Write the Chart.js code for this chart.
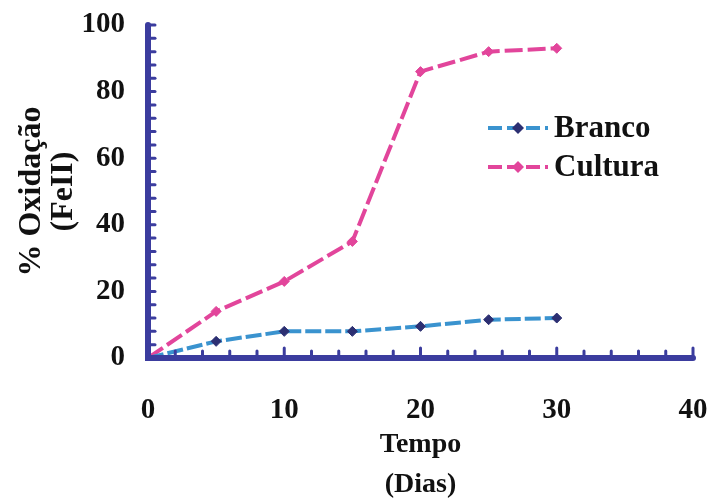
<!DOCTYPE html>
<html>
<head>
<meta charset="utf-8">
<script src="https://cdn.jsdelivr.net/npm/chart.js@4.4.1/dist/chart.umd.min.js"></script>
<style>
  html, body { margin: 0; padding: 0; background: #fff; }
  #wrap { width: 708px; height: 498px; }
</style>
</head>
<body>
<div id="wrap"><canvas id="oxChart" width="708" height="498"></canvas></div>
<script>
// tempo (dias) e % de oxidação do Fe(II)
var dias = [0, 5, 10, 15, 20, 25, 30];
var branco = [0, 5, 8, 8, 9.5, 11.5, 12];
var cultura = [0, 14, 23, 35, 86, 92, 93];
var xTicks = [0, 10, 20, 30, 40];
var yTicks = [0, 20, 40, 60, 80, 100];

var axisColor = '#3b3c9e';
var serif = '"Liberation Serif", "DejaVu Serif", serif';

function pts(vals){
    return dias.map(function(d, i){ return {x: d, y: vals[i]}; });
}

// eixos com marcas voltadas para dentro + legenda
var axesPlugin = {
    id: 'axesPlugin',
    afterDatasetsDraw: function(chart){
        var c = chart.ctx, xs = chart.scales.x, ys = chart.scales.y;
        var x0 = xs.getPixelForValue(0), y0 = ys.getPixelForValue(0);
        c.save();
        c.strokeStyle = axisColor;
        c.lineCap = 'round';
        c.lineWidth = 6;
        c.beginPath();
        c.moveTo(x0, ys.getPixelForValue(100));
        c.lineTo(x0, y0);
        c.lineTo(xs.getPixelForValue(40), y0);
        c.stroke();
        c.lineWidth = 3;
        for (var v = 4; v <= 100; v += 4) {
            var py = ys.getPixelForValue(v);
            c.beginPath(); c.moveTo(x0, py); c.lineTo(x0 + 7, py); c.stroke();
        }
        for (var t = 2; t <= 40; t += 2) {
            var px = xs.getPixelForValue(t);
            var len = (t % 10 === 0) ? 10 : 7;
            c.beginPath(); c.moveTo(px, y0); c.lineTo(px, y0 - len); c.stroke();
        }
        // legenda
        var items = chart.data.datasets;
        items.forEach(function(ds, i){
            var ly = 128 + i * 39, lx = 488;
            c.setLineDash([14, 5]);
            c.lineWidth = 4;
            c.lineCap = 'butt';
            c.strokeStyle = ds.borderColor;
            c.beginPath(); c.moveTo(lx, ly); c.lineTo(lx + 60, ly); c.stroke();
            c.setLineDash([]);
            c.fillStyle = ds.pointBackgroundColor;
            c.beginPath();
            c.moveTo(lx + 30, ly - 6); c.lineTo(lx + 36, ly);
            c.lineTo(lx + 30, ly + 6); c.lineTo(lx + 24, ly);
            c.closePath(); c.fill();
            c.fillStyle = '#111';
            c.font = 'bold 31px ' + serif;
            c.textBaseline = 'middle';
            c.fillText(ds.label, lx + 66, ly + 1);
        });
        c.restore();
    }
};

var ctx = document.getElementById('oxChart');
var oxChart = new Chart(ctx, {
    type: 'scatter',
    data: {
        datasets: [{
            label: 'Branco',
            data: pts(branco),
            showLine: true,
            borderColor: '#3a93cf',
            borderWidth: 4,
            borderDash: [16, 4],
            pointStyle: 'rectRot',
            pointRadius: 5,
            pointBackgroundColor: '#2c2f72',
            pointBorderColor: '#2c2f72',
            pointBorderWidth: 1
        }, {
            label: 'Cultura',
            data: pts(cultura),
            showLine: true,
            borderColor: '#e2459b',
            borderWidth: 4,
            borderDash: [18, 5],
            pointStyle: 'rectRot',
            pointRadius: 5,
            pointBackgroundColor: '#e2459b',
            pointBorderColor: '#e2459b',
            pointBorderWidth: 1
        }]
    },
    options: {
        responsive: false,
        animation: false,
        layout: { padding: { top: 25, right: 0, left: 0, bottom: 0 } },
        plugins: { legend: { display: false }, tooltip: { enabled: false } },
        scales: {
            x: {
                min: 0, max: 40,
                afterFit: function(s){ s.height = 140; s.paddingRight = 15; s.paddingLeft = 0; },
                afterBuildTicks: function(s){ s.ticks = xTicks.map(function(v){ return {value: v}; }); },
                grid: { display: false },
                border: { display: false },
                ticks: { padding: 27, color: '#111', font: { family: serif, size: 29, weight: 'bold' } },
                title: {
                    display: true,
                    text: ['Tempo', '(Dias)'],
                    color: '#111',
                    font: { family: serif, size: 28, weight: 'bold', lineHeight: 1.4 },
                    padding: { top: 0, bottom: -6 }
                }
            },
            y: {
                min: 0, max: 100,
                afterFit: function(s){ s.width = 148; s.paddingTop = 0; s.paddingBottom = 0; },
                afterBuildTicks: function(s){ s.ticks = yTicks.map(function(v){ return {value: v}; }); },
                grid: { display: false },
                border: { display: false },
                ticks: { padding: 15, color: '#111', font: { family: serif, size: 29, weight: 'bold' } },
                title: {
                    display: true,
                    text: ['% Oxidação', '(FeII)'],
                    color: '#111',
                    font: { family: serif, size: 32, weight: 'bold', lineHeight: 1.0 },
                    padding: { top: 16, bottom: 0 }
                }
            }
        }
    },
    plugins: [axesPlugin]
});
</script>
</body>
</html>
